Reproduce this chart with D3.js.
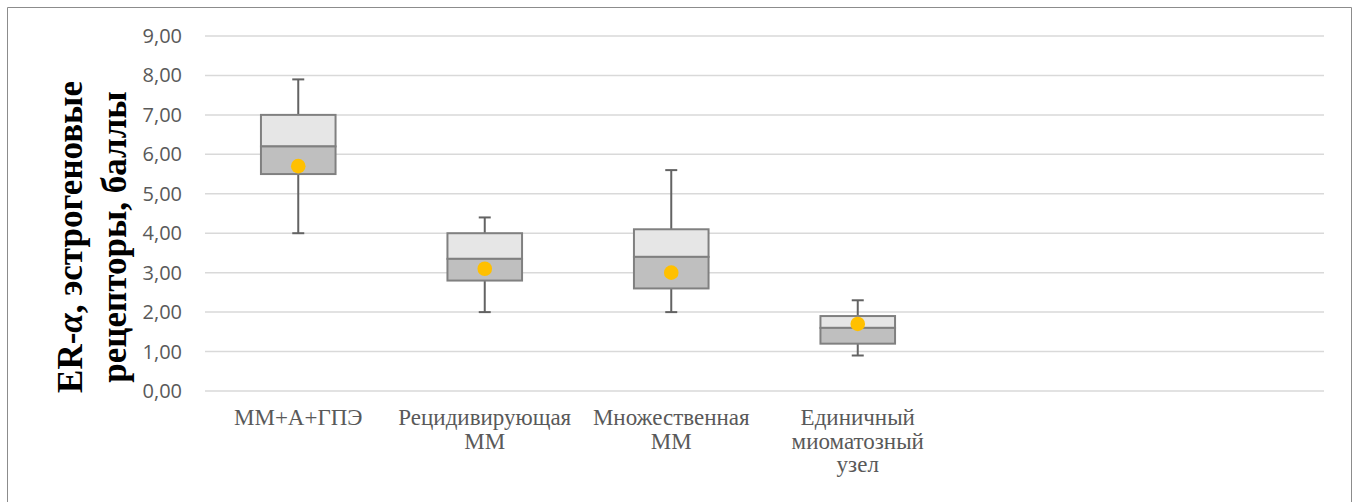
<!DOCTYPE html>
<html>
<head>
<meta charset="utf-8">
<script src="https://cdn.jsdelivr.net/npm/d3@7"></script>
<style>
  body { margin: 0; background: #fff; }
  .axis-label { font-family: "Open Sans", sans-serif; font-size: 20px; fill: #595959; }
  .y-title { font-family: "Liberation Serif", "DejaVu Serif", serif; font-size: 35px; font-weight: bold; fill: #000; }
</style>
</head>
<body>
<div id="boxChart"></div>
<script>
// chart data
var categories = ["ММ+А+ГПЭ", "Рецидивирующая\nММ", "Множественная\nММ", "Единичный\nмиоматозный\nузел"];
var slotCount = 6; // excel keeps two empty slots on the right
var minVals = [4.0, 2.0, 2.0, 0.9];
var q1Vals = [5.5, 2.8, 2.6, 1.2];
var medianVals = [6.2, 3.35, 3.4, 1.6];
var q3Vals = [7.0, 4.0, 4.1, 1.9];
var maxVals = [7.9, 4.4, 5.6, 2.3];
var meanVals = [5.7, 3.1, 3.0, 1.7];
var yTicks = [0, 1, 2, 3, 4, 5, 6, 7, 8, 9];
var titleLines = ["ER-α, эстрогеновые", "рецепторы, баллы"];

var width = 1357;
var height = 502;
var margin = {top: 36, right: 33, bottom: 111, left: 205};

var svg = d3.select("#boxChart")
  .append("svg")
  .attr("width", width)
  .attr("height", height);

// frame
svg.append("path")
  .attr("d", "M7.5," + (height + 5) + "V7.5H1351.5V" + (height + 5))
  .attr("fill", "none")
  .attr("stroke", "#8c8c8c")
  .attr("stroke-width", 1);

var xScale = d3.scaleBand()
  .domain(d3.range(slotCount))
  .range([margin.left, width - margin.right])
  .padding(0);

var yScale = d3.scaleLinear()
  .domain([0, 9])
  .range([height - margin.bottom, margin.top]);

var fmt = function(d) { return d3.format(".2f")(d).replace(".", ","); };

// gridlines
svg.append("g")
  .selectAll("line")
  .data(yTicks)
  .enter().append("line")
  .attr("x1", margin.left)
  .attr("x2", width - margin.right)
  .attr("y1", function(d) { return yScale(d); })
  .attr("y2", function(d) { return yScale(d); })
  .attr("stroke", "#d9d9d9")
  .attr("stroke-width", 1.5);

// y axis labels
svg.append("g")
  .selectAll("text")
  .data(yTicks)
  .enter().append("text")
  .attr("class", "axis-label")
  .attr("x", 182)
  .attr("y", function(d) { return yScale(d); })
  .attr("dy", "0.35em")
  .attr("text-anchor", "end")
  .text(fmt);

// y title, two lines rotated
var title = svg.append("text")
  .attr("class", "y-title")
  .attr("transform", "translate(82,237) rotate(-90)")
  .attr("text-anchor", "middle");
title.append("tspan")
  .attr("x", 0).attr("y", 0)
  .text("ER-");
title.append("tspan")
  .style("font-style", "italic")
  .text("α");
title.append("tspan")
  .text(titleLines[0].slice(4));
title.append("tspan")
  .attr("x", 0).attr("y", 44)
  .text(titleLines[1]);

var idx = d3.range(categories.length);
var bw = xScale.bandwidth() * 0.4;
var cx = function(i) { return xScale(i) + xScale.bandwidth() / 2; };

var boxes = svg.append("g")
  .selectAll("g")
  .data(idx)
  .enter().append("g");

// whiskers
boxes.append("line")
  .attr("x1", cx).attr("x2", cx)
  .attr("y1", function(i) { return yScale(maxVals[i]); })
  .attr("y2", function(i) { return yScale(q3Vals[i]); })
  .attr("stroke", "#636363").attr("stroke-width", 2);
boxes.append("line")
  .attr("x1", cx).attr("x2", cx)
  .attr("y1", function(i) { return yScale(q1Vals[i]); })
  .attr("y2", function(i) { return yScale(minVals[i]); })
  .attr("stroke", "#636363").attr("stroke-width", 2);
boxes.append("line")
  .attr("x1", function(i) { return cx(i) - 6; })
  .attr("x2", function(i) { return cx(i) + 6; })
  .attr("y1", function(i) { return yScale(maxVals[i]); })
  .attr("y2", function(i) { return yScale(maxVals[i]); })
  .attr("stroke", "#636363").attr("stroke-width", 2);
boxes.append("line")
  .attr("x1", function(i) { return cx(i) - 6; })
  .attr("x2", function(i) { return cx(i) + 6; })
  .attr("y1", function(i) { return yScale(minVals[i]); })
  .attr("y2", function(i) { return yScale(minVals[i]); })
  .attr("stroke", "#636363").attr("stroke-width", 2);

// upper part of box (median..q3)
boxes.append("rect")
  .attr("x", function(i) { return cx(i) - bw / 2; })
  .attr("width", bw)
  .attr("y", function(i) { return yScale(q3Vals[i]); })
  .attr("height", function(i) { return yScale(medianVals[i]) - yScale(q3Vals[i]); })
  .attr("fill", "#e6e6e6")
  .attr("stroke", "#808080").attr("stroke-width", 2);

// lower part of box (q1..median)
boxes.append("rect")
  .attr("x", function(i) { return cx(i) - bw / 2; })
  .attr("width", bw)
  .attr("y", function(i) { return yScale(medianVals[i]); })
  .attr("height", function(i) { return yScale(q1Vals[i]) - yScale(medianVals[i]); })
  .attr("fill", "#bfbfbf")
  .attr("stroke", "#808080").attr("stroke-width", 2);

// means
boxes.append("circle")
  .attr("cx", cx)
  .attr("cy", function(i) { return yScale(meanVals[i]); })
  .attr("r", 7.3)
  .attr("fill", "#ffc000");

// category labels
var labels = svg.append("g")
  .selectAll("text")
  .data(idx)
  .enter().append("text")
  .style("font-family", "'Liberation Serif', 'Times New Roman', 'DejaVu Serif', serif")
  .style("font-size", "23px")
  .style("fill", "#595959")
  .attr("text-anchor", "middle")
  .attr("transform", function(i) { return "translate(" + cx(i) + ",425)"; });

labels.selectAll("tspan")
  .data(function(i) { return categories[i].split("\n"); })
  .enter().append("tspan")
  .attr("x", 0)
  .attr("y", function(d, j) { return j * 23.5; })
  .text(function(d) { return d; });
</script>
</body>
</html>
